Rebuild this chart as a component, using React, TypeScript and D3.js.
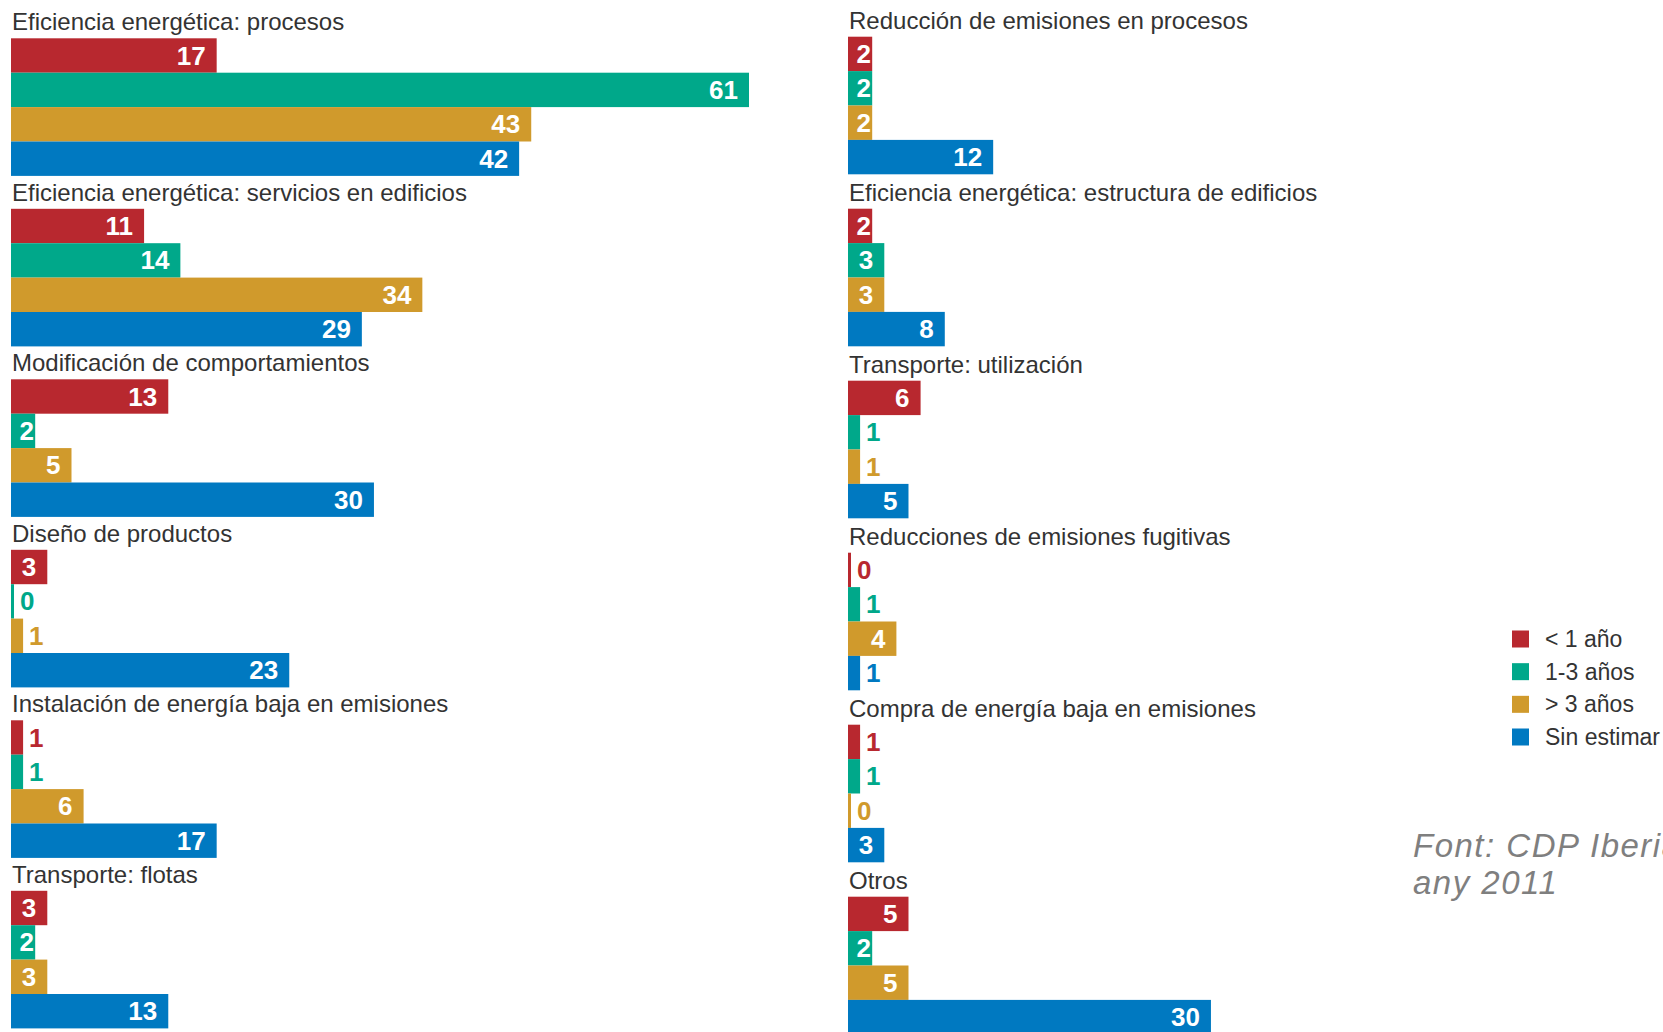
import React from "react";
import * as d3 from "d3";

const categoriesLeft = [
  "Eficiencia energética: procesos",
  "Eficiencia energética: servicios en edificios",
  "Modificación de comportamientos",
  "Diseño de productos",
  "Instalación de energía baja en emisiones",
  "Transporte: flotas",
];
const categoriesRight = [
  "Reducción de emisiones en procesos",
  "Eficiencia energética: estructura de edificios",
  "Transporte: utilización",
  "Reducciones de emisiones fugitivas",
  "Compra de energía baja en emisiones",
  "Otros",
];

const seriesNames = ["< 1 año", "1-3 años", "> 3 años", "Sin estimar"];
const seriesColors = ["#b8282f", "#00a88a", "#d09a2c", "#0079c1"];

// values per series: left column then right column
const lessThan1Left = [17, 11, 13, 3, 1, 3];
const oneToThreeLeft = [61, 14, 2, 0, 1, 2];
const moreThan3Left = [43, 34, 5, 1, 6, 3];
const unestimatedLeft = [42, 29, 30, 23, 17, 13];

const lessThan1Right = [2, 2, 6, 0, 1, 5];
const oneToThreeRight = [2, 3, 1, 1, 1, 2];
const moreThan3Right = [2, 3, 1, 4, 0, 5];
const unestimatedRight = [12, 8, 5, 1, 3, 30];

const sourceLines = ["Font: CDP Iberia", "any 2011"];

const W = 1663;
const H = 1032;
const BAR_H = 34.4;
const FONT = "'Liberation Sans', Arial, Helvetica, sans-serif";

const x = d3.scaleLinear().domain([0, 61]).range([0, 738]);

const barY = d3
  .scaleBand<number>()
  .domain(d3.range(4))
  .range([0, 4 * BAR_H])
  .padding(0);

function Column({
  originX,
  firstTop,
  pitch,
  categories,
  series,
}: {
  originX: number;
  firstTop: number;
  pitch: number;
  categories: string[];
  series: number[][];
}) {
  const groupY = d3
    .scaleBand<number>()
    .domain(d3.range(categories.length))
    .range([firstTop, firstTop + categories.length * pitch])
    .padding(0);
  return (
    <g transform={`translate(${originX},0)`}>
      {categories.map((cat, g) => {
        const top = groupY(g) as number;
        return (
          <g key={cat}>
            <text
              x={1}
              y={top - 8}
              fontFamily={FONT}
              fontSize={24}
              fill="#333333"
            >
              {cat}
            </text>
            {series.map((vals, s) => {
              const v = vals[g];
              const w = Math.max(x(v), 3);
              const y0 = top + (barY(s) as number);
              const cy = y0 + barY.bandwidth() / 2;
              const inside = v >= 2;
              return (
                <g key={s}>
                  <rect
                    x={0}
                    y={y0}
                    width={w}
                    height={barY.bandwidth()}
                    fill={seriesColors[s]}
                  />
                  <text
                    x={inside ? Math.max(w - 11, 23) : w + 6}
                    y={cy + 9}
                    textAnchor={inside ? "end" : "start"}
                    fontFamily={FONT}
                    fontWeight="bold"
                    fontSize={26}
                    fill={inside ? "#ffffff" : seriesColors[s]}
                  >
                    {v}
                  </text>
                </g>
              );
            })}
          </g>
        );
      })}
    </g>
  );
}

export default function App() {
  const leftSeries = [lessThan1Left, oneToThreeLeft, moreThan3Left, unestimatedLeft];
  const rightSeries = [lessThan1Right, oneToThreeRight, moreThan3Right, unestimatedRight];
  const legendY = d3.scaleLinear().domain([0, 3]).range([639, 737]);
  return (
    <svg
      width={W}
      height={H}
      style={{ position: "absolute", left: 0, top: 0, background: "#ffffff" }}
    >
      <rect x={0} y={0} width={W} height={H} fill="#ffffff" />
      <Column
        originX={11}
        firstTop={38.3}
        pitch={170.5}
        categories={categoriesLeft}
        series={leftSeries}
      />
      <Column
        originX={848}
        firstTop={36.7}
        pitch={172}
        categories={categoriesRight}
        series={rightSeries}
      />
      <g>
        {seriesNames.map((name, i) => (
          <g key={name}>
            <rect
              x={1512}
              y={legendY(i) - 8.5}
              width={17}
              height={17}
              fill={seriesColors[i]}
            />
            <text
              x={1545}
              y={legendY(i) + 8}
              fontFamily={FONT}
              fontSize={23}
              fill="#333333"
            >
              {name}
            </text>
          </g>
        ))}
      </g>
      <g>
        {sourceLines.map((line, i) => (
          <text
            key={i}
            x={1413}
            y={857 + i * 36.5}
            fontFamily={FONT}
            fontStyle="italic"
            fontSize={33}
            letterSpacing={1.5}
            fill="#7f7f7f"
          >
            {line}
          </text>
        ))}
      </g>
    </svg>
  );
}
